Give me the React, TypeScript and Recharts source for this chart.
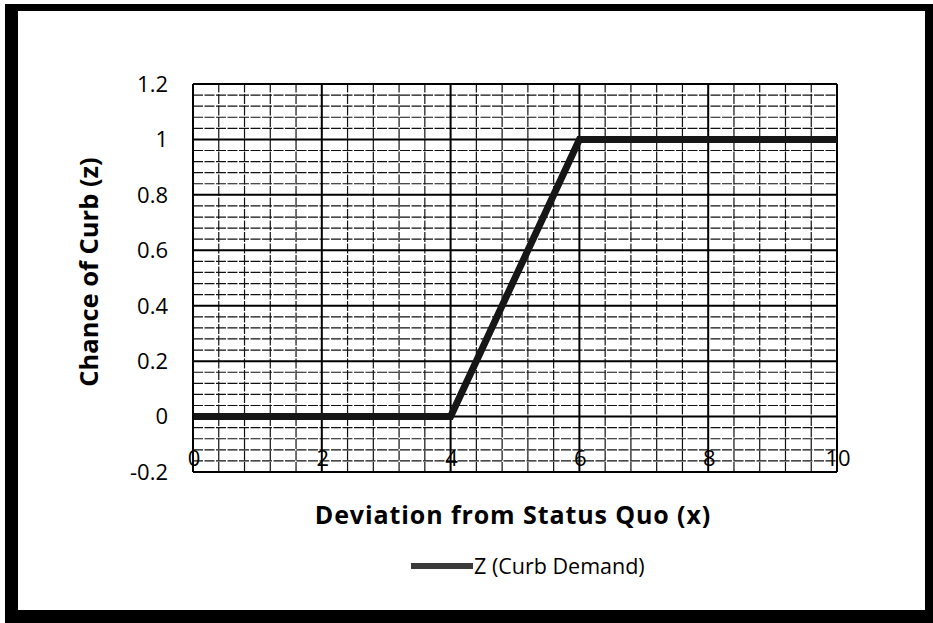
import React from 'react';
import { LineChart, Line, XAxis, YAxis, ReferenceLine, Legend } from 'recharts';

const xValues = [0, 4, 6, 10];
const zValues = [0, 0, 1, 1];
const seriesName = 'Z (Curb Demand)';
const xTicks = [0, 2, 4, 6, 8, 10];
const yTicks = [-0.2, 0, 0.2, 0.4, 0.6, 0.8, 1, 1.2];
const xMinor = [0.4, 0.8, 1.2, 1.6, 2.4, 2.8, 3.2, 3.6, 4.4, 4.8, 5.2, 5.6, 6.4, 6.8, 7.2, 7.6, 8.4, 8.8, 9.2, 9.6];
const yMinor = [
  -0.16, -0.12, -0.08, -0.04, 0.04, 0.08, 0.12, 0.16, 0.24, 0.28, 0.32, 0.36, 0.44, 0.48,
  0.52, 0.56, 0.64, 0.68, 0.72, 0.76, 0.84, 0.88, 0.92, 0.96, 1.04, 1.08, 1.12, 1.16,
];
const xTitle = 'Deviation from Status Quo (x)';
const yTitle = 'Chance of Curb (z)';

const data = xValues.map((x, i) => ({ x, z: zValues[i] }));

const FONT = '"Open Sans", Lato, sans-serif';
const LINE_COLOR = '#161616';

const XTick = (props: any) => {
  const { x, y, payload } = props;
  return (
    <text x={x + 1} y={y - 15} textAnchor="middle" dominantBaseline="central" fontSize={22} fill="#000" fontFamily={FONT}>
      {payload.value}
    </text>
  );
};

const YTitle = (props: any) => {
  const vb = props.viewBox;
  const cx = vb.x + 5;
  const cy = vb.y + vb.height / 2 - 6;
  return (
    <text
      x={cx}
      y={cy}
      transform={`rotate(-90 ${cx} ${cy})`}
      textAnchor="middle"
      dominantBaseline="central"
      fontSize={25.5}
      fontWeight={700}
      fill="#000"
      fontFamily={FONT}
    >
      {yTitle}
    </text>
  );
};

const XTitle = (props: any) => {
  const vb = props.viewBox;
  return (
    <text
      x={vb.x + vb.width / 2 - 2}
      y={524}
      textAnchor="middle"
      fontSize={25}
      fontWeight={700}
      letterSpacing={0.9}
      fill="#000"
      fontFamily={FONT}
    >
      {xTitle}
    </text>
  );
};

const LegendContent = () => (
  <div style={{ display: 'flex', alignItems: 'center', fontFamily: FONT }}>
    <svg width={62} height={8} style={{ display: 'block' }}>
      <line x1={0} y1={4} x2={62} y2={4} stroke="#3a3a3a" strokeWidth={6} />
    </svg>
    <span style={{ fontSize: 21.5, color: '#000', marginLeft: 1, lineHeight: '24px' }}>{seriesName}</span>
  </div>
);

export default function App() {
  return (
    <div style={{ position: 'fixed', left: 0, top: 0, width: 933, height: 623, background: '#fff' }}>
      <div
        style={{
          position: 'absolute',
          left: 5,
          top: 4,
          width: 928,
          height: 619,
          boxSizing: 'border-box',
          borderTop: '7px solid #000',
          borderLeft: '13px solid #000',
          borderRight: '8px solid #000',
          borderBottom: '13px solid #000',
        }}
      />
      <div style={{ position: 'absolute', left: 0, top: 0 }}>
        <LineChart
          width={933}
          height={623}
          data={data}
          margin={{ top: 84, right: 96, left: 83, bottom: 121 }}
          style={{ fontFamily: FONT }}
        >
          <XAxis
            dataKey="x"
            type="number"
            domain={[0, 10]}
            ticks={xTicks}
            allowDataOverflow
            height={30}
            tickLine={false}
            tickSize={0}
            tickMargin={0}
            axisLine={{ stroke: '#000', strokeWidth: 2 }}
            tick={<XTick />}
            label={<XTitle />}
          />
          <YAxis
            type="number"
            domain={[-0.2, 1.2]}
            ticks={yTicks}
            allowDataOverflow
            width={110}
            tickLine={false}
            tickSize={0}
            tickMargin={25}
            axisLine={{ stroke: '#000', strokeWidth: 2 }}
            tick={{ fill: '#000', fontSize: 22, fontFamily: FONT }}
            label={<YTitle />}
          />
          {xMinor.map((v) => (
            <ReferenceLine key={'xm' + v} x={v} stroke="#111" strokeWidth={1.2} strokeDasharray="10 1.5" ifOverflow="extendDomain" />
          ))}
          {yMinor.map((v) => (
            <ReferenceLine key={'ym' + v} y={v} stroke="#111" strokeWidth={1.2} strokeDasharray="10 1.5" ifOverflow="extendDomain" />
          ))}
          {xTicks.map((v) => (
            <ReferenceLine key={'xM' + v} x={v} stroke="#000" strokeWidth={2} />
          ))}
          {yTicks.map((v) => (
            <ReferenceLine key={'yM' + v} y={v} stroke="#000" strokeWidth={2} />
          ))}
          <Line
            type="linear"
            dataKey="z"
            name={seriesName}
            stroke={LINE_COLOR}
            strokeWidth={7}
            dot={false}
            activeDot={false}
            isAnimationActive={false}
          />
          <Legend
            verticalAlign="middle"
            align="center"
            content={<LegendContent />}
            wrapperStyle={{ top: 554, left: 411, width: 'auto' }}
          />
        </LineChart>
      </div>
    </div>
  );
}
